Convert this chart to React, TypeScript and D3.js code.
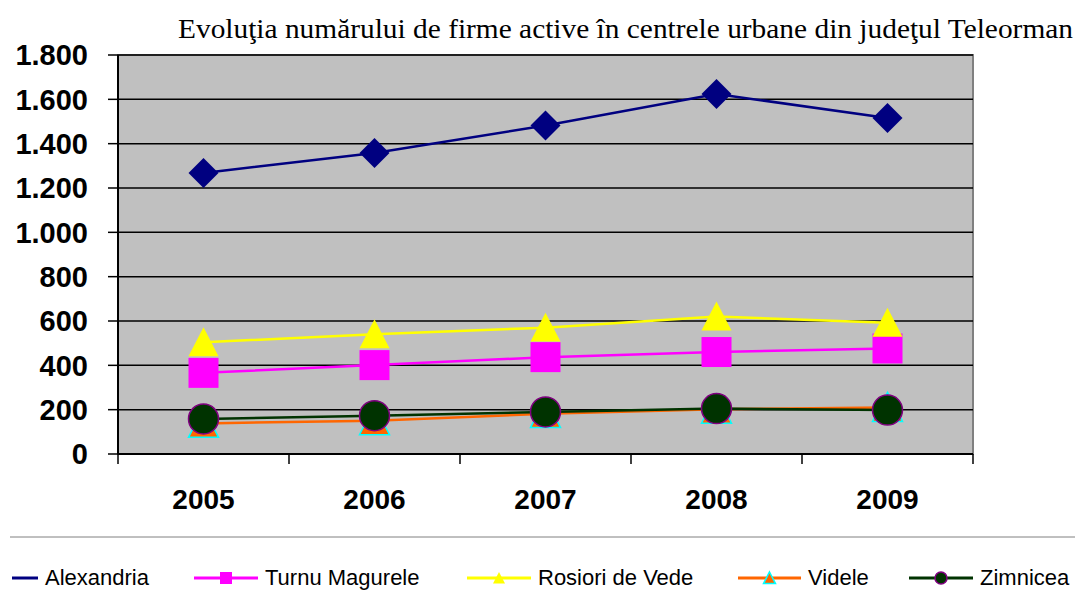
import React from 'react';
import * as d3 from 'd3';

// data
const years = ['2005', '2006', '2007', '2008', '2009'];
const yTicks = [0, 200, 400, 600, 800, 1000, 1200, 1400, 1600, 1800];
const alexandria = [1268, 1358, 1482, 1624, 1516];
const turnuMagurele = [366, 401, 437, 460, 476];
const rosioriDeVede = [504, 540, 570, 620, 592];
const videle = [138, 150, 182, 202, 210];
const zimnicea = [158, 173, 190, 205, 198];

const title = 'Evoluţia numărului de firme active în centrele urbane din judeţul Teleorman';

const series = [
  { name: 'Alexandria', values: alexandria, color: '#000080', marker: 'diamond', fill: '#000080', stroke: 'none', legendX: 12, legendW: 26 },
  { name: 'Turnu Magurele', values: turnuMagurele, color: '#FF00FF', marker: 'square', fill: '#FF00FF', stroke: 'none', legendX: 194, legendW: 64 },
  { name: 'Rosiori de Vede', values: rosioriDeVede, color: '#FFFF00', marker: 'triangle', fill: '#FFFF00', stroke: 'none', legendX: 467, legendW: 64 },
  { name: 'Videle', values: videle, color: '#FF6600', marker: 'triangle', fill: '#FF6600', stroke: '#00FFFF', legendX: 738, legendW: 63 },
  { name: 'Zimnicea', values: zimnicea, color: '#003300', marker: 'circle', fill: '#003300', stroke: '#800080', legendX: 909, legendW: 64 },
];

const W = 1078;
const H = 590;
const plot = { left: 118, right: 973, top: 55, bottom: 454 };

const x = d3.scaleBand<string>().domain(years).range([plot.left, plot.right]);
const y = d3.scaleLinear().domain([0, 1800]).range([plot.bottom, plot.top]);
const fmt = d3.formatLocale({ decimal: ',', thousands: '.', grouping: [3], currency: ['', ''] }).format(',');

const symbolPath = (marker: string, size: number) => {
  const h = size / 2;
  if (marker === 'diamond') return `M0,${-h}L${h},0L0,${h}L${-h},0Z`;
  if (marker === 'square') return `M${-h},${-h}H${h}V${h}H${-h}Z`;
  if (marker === 'triangle') return `M0,${-h}L${h},${h * 0.93}L${-h},${h * 0.93}Z`;
  return d3.arc()({ innerRadius: 0, outerRadius: h, startAngle: 0, endAngle: Math.PI * 2 }) as string;
};

const App = () => {
  const cx = (yr: string) => (x(yr) as number) + x.bandwidth() / 2;
  const line = d3.line<number>().x((d, i) => cx(years[i])).y((d) => y(d));

  return (
    <svg width={W} height={H} style={{ position: 'absolute', left: 0, top: 0, background: '#fff' }}>
      {/* title */}
      <text
        x={178}
        y={38}
        textLength={895}
        lengthAdjust="spacingAndGlyphs"
        fontFamily="'Liberation Serif', 'Times New Roman', serif"
        fontSize={27}
        fill="#000"
      >
        {title}
      </text>

      {/* plot area */}
      <rect x={plot.left} y={plot.top} width={plot.right - plot.left} height={plot.bottom - plot.top} fill="#C0C0C0" stroke="#808080" strokeWidth={2} />
      {yTicks.filter((t) => t > 0).map((t) => (
        <line key={t} x1={plot.left} x2={plot.right} y1={y(t)} y2={y(t)} stroke="#000" strokeWidth={1.5} />
      ))}

      {/* y axis */}
      <line x1={plot.left} x2={plot.left} y1={plot.top} y2={plot.bottom} stroke="#000" strokeWidth={2} />
      {yTicks.map((t) => (
        <g key={t}>
          <line x1={plot.left - 10} x2={plot.left} y1={y(t)} y2={y(t)} stroke="#000" strokeWidth={1.5} />
          <text x={88} y={y(t)} dy="0.36em" textAnchor="end" fontFamily="'Liberation Sans', Arial, sans-serif" fontWeight="bold" fontSize={29} fill="#000">
            {fmt(t)}
          </text>
        </g>
      ))}

      {/* x axis */}
      <line x1={plot.left} x2={plot.right} y1={plot.bottom} y2={plot.bottom} stroke="#000" strokeWidth={2} />
      {[...years.map((yr) => x(yr) as number), plot.right].map((px, i) => (
        <line key={i} x1={px} x2={px} y1={plot.bottom} y2={plot.bottom + 10} stroke="#000" strokeWidth={1.5} />
      ))}
      {years.map((yr) => (
        <text key={yr} x={cx(yr)} y={509} textAnchor="middle" fontFamily="'Liberation Sans', Arial, sans-serif" fontWeight="bold" fontSize={28} fill="#000">
          {yr}
        </text>
      ))}

      {/* series */}
      {series.map((s) => (
        <g key={s.name}>
          <path d={line(s.values) as string} fill="none" stroke={s.color} strokeWidth={2.5} />
          {s.values.map((v, i) => (
            <path
              key={i}
              d={symbolPath(s.marker, 30)}
              transform={`translate(${cx(years[i])},${y(v)})`}
              fill={s.fill}
              stroke={s.stroke}
              strokeWidth={1.5}
            />
          ))}
        </g>
      ))}

      {/* separator above legend */}
      <line x1={10} x2={1075} y1={537} y2={537} stroke="#808080" strokeWidth={1} />

      {/* legend */}
      {series.map((s) => (
        <g key={s.name}>
          <line x1={s.legendX} x2={s.legendX + s.legendW} y1={578} y2={578} stroke={s.color} strokeWidth={3} />
          {s.name !== 'Alexandria' && (
            <path
              d={symbolPath(s.marker, 12)}
              transform={`translate(${s.legendX + s.legendW / 2},578)`}
              fill={s.fill}
              stroke={s.stroke}
              strokeWidth={1.5}
            />
          )}
          <text x={s.legendX + s.legendW + 7} y={585} fontFamily="'Liberation Sans', Arial, sans-serif" fontSize={22} fill="#000">
            {s.name}
          </text>
        </g>
      ))}
    </svg>
  );
};

export default App;
